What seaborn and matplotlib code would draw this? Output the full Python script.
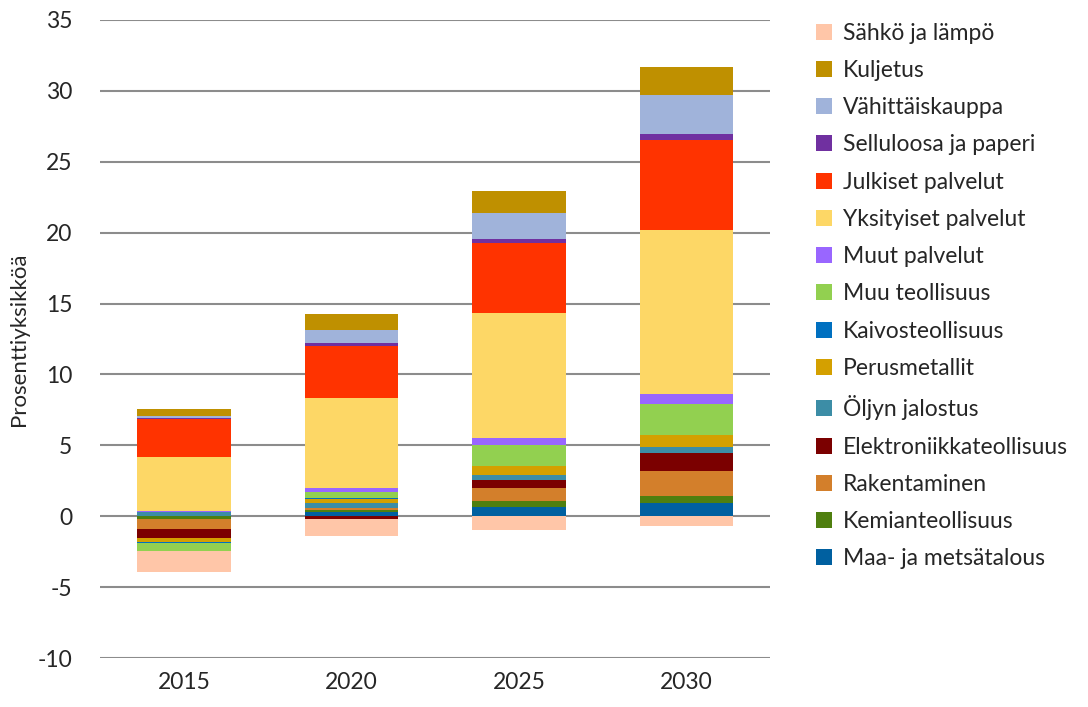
"""Toimialojen kontribuutiot, pinottu pylväs (2015-2030)."""

import matplotlib.pyplot as plt
import numpy as np
import seaborn as sns
from matplotlib.patches import Patch

YEARS = ["2015", "2020", "2025", "2030"]

# stacking order = Excel series order (legend shows it reversed)
SERIES = [
    "Maa- ja metsätalous",
    "Kemianteollisuus",
    "Rakentaminen",
    "Elektroniikkateollisuus",
    "Öljyn jalostus",
    "Perusmetallit",
    "Kaivosteollisuus",
    "Muu teollisuus",
    "Muut palvelut",
    "Yksityiset palvelut",
    "Julkiset palvelut",
    "Selluloosa ja paperi",
    "Vähittäiskauppa",
    "Kuljetus",
    "Sähkö ja lämpö",
]

maa = [0.0, 0.33, 0.68, 0.94]
kemia = [-0.19, 0.14, 0.38, 0.52]
rakentaminen = [-0.73, 0.14, 0.92, 1.76]
elektroniikka = [-0.61, -0.2, 0.58, 1.27]
oljy = [0.30, 0.36, 0.36, 0.38]
perusmetallit = [-0.28, 0.28, 0.63, 0.87]
kaivos = [-0.09, 0.02, 0.0, 0.0]
muu_teollisuus = [-0.57, 0.47, 1.51, 2.16]
muut_palvelut = [0.05, 0.24, 0.47, 0.73]
yksityiset = [3.80, 6.35, 8.77, 11.55]
julkiset = [2.70, 3.70, 4.94, 6.33]
selluloosa = [0.10, 0.20, 0.31, 0.45]
vahittais = [0.15, 0.94, 1.83, 2.75]
kuljetus = [0.50, 1.06, 1.56, 1.95]
sahko = [-1.46, -1.20, -0.99, -0.68]

VALUES = [maa, kemia, rakentaminen, elektroniikka, oljy, perusmetallit, kaivos,
          muu_teollisuus, muut_palvelut, yksityiset, julkiset, selluloosa,
          vahittais, kuljetus, sahko]

COLORS = ["#0060A0", "#4F7F0F", "#D37F2B", "#7B0000", "#3C8DA6", "#D4A000",
          "#0070C0", "#92D050", "#9966FF", "#FDD766", "#FF3300", "#7030A0",
          "#A0B3DA", "#BF9000", "#FFC6A8"]


def main() -> None:
    sns.set_style("white")
    plt.rcParams["font.family"] = ["Lato", "DejaVu Sans"]
    plt.rcParams["axes.unicode_minus"] = False

    vals = np.array(VALUES)
    pos = np.cumsum(np.clip(vals, 0, None), axis=0)
    neg = np.cumsum(np.clip(vals, None, 0), axis=0)

    fig = plt.figure(figsize=(10.88, 7.07), dpi=100)
    ax = fig.add_axes([0.092, 0.069, 0.616, 0.903])

    for cum in (pos, neg):
        # draw cumulative bars from the outermost inwards so each series shows its slice
        for i in range(len(SERIES) - 1, -1, -1):
            sns.barplot(x=YEARS, y=cum[i], color=COLORS[i], saturation=1,
                        width=0.56, linewidth=0, ax=ax)

    ax.set_ylim(-10, 35)
    ax.set_yticks(range(-10, 36, 5))
    ax.set_xlim(-0.5, 3.5)
    ax.yaxis.grid(True, color="#8C8C8C", linewidth=1.5)
    ax.set_axisbelow(True)
    sns.despine(ax=ax, left=True, bottom=True)
    ax.tick_params(axis="y", length=0, labelsize=16.5, pad=20)
    ax.tick_params(axis="x", length=0, labelsize=16.5, pad=10)
    ax.set_ylabel("Prosenttiyksikköä", fontsize=16, labelpad=6)
    ax.set_xlabel("")

    handles = [Patch(facecolor=c, edgecolor="none") for c in COLORS]
    ax.legend(handles[::-1], SERIES[::-1], loc="upper left",
              bbox_to_anchor=(1.055, 1.01), frameon=False, fontsize=16.5,
              handlelength=0.7, handleheight=0.7, handletextpad=0.45,
              labelspacing=0.71, borderaxespad=0)

    fig.savefig("out.png", dpi=100)


if __name__ == "__main__":
    main()
